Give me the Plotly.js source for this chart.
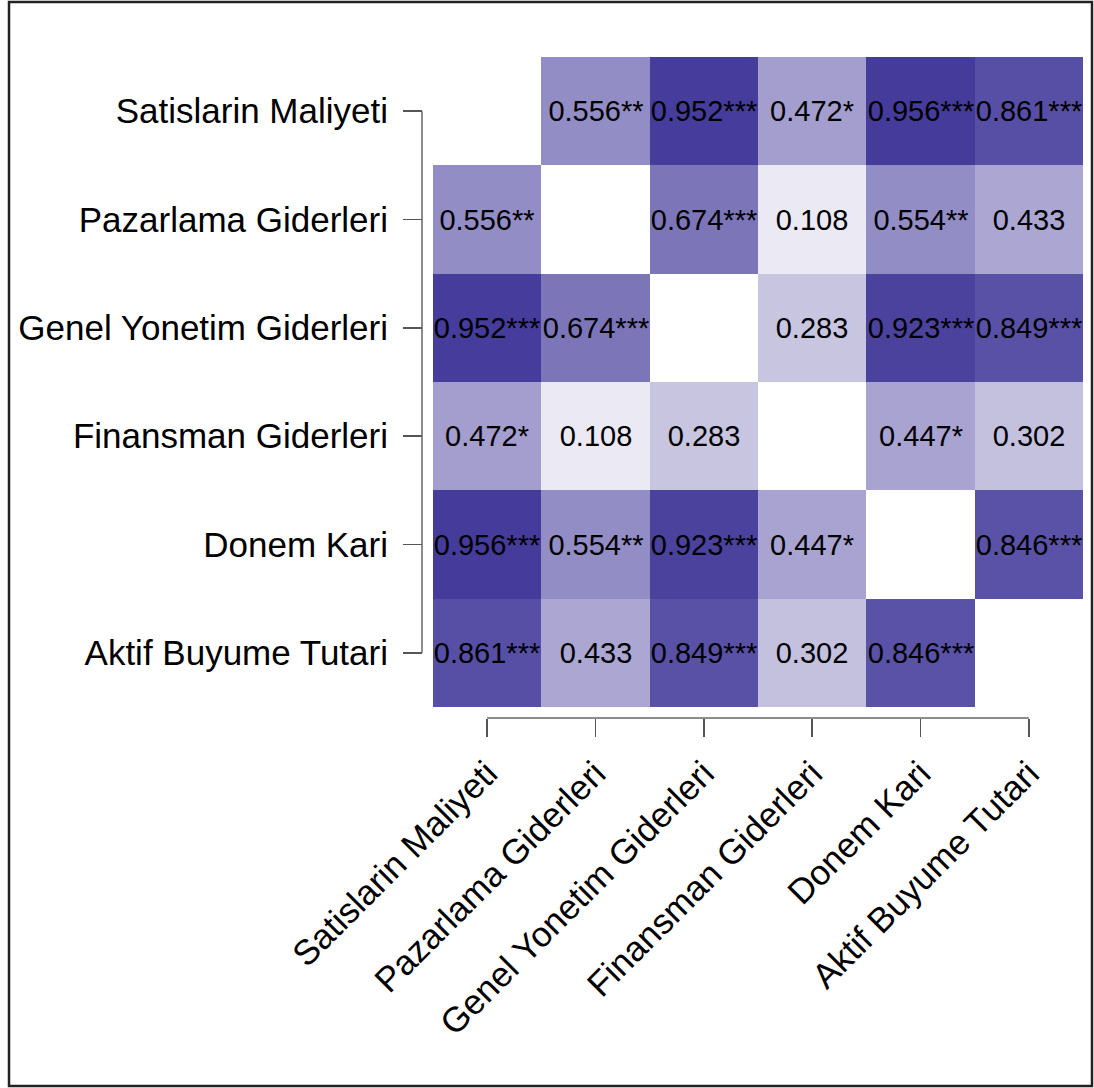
<!DOCTYPE html>
<html>
<head>
<meta charset="utf-8">
<script src="https://cdn.plot.ly/plotly-3.0.1.min.js"></script>
<style>html,body{margin:0;padding:0;background:#fff;}#chart{width:1094px;height:1088px;}</style>
</head>
<body>
<div id="chart"></div>
<script>
var labels = ["Satislarin Maliyeti","Pazarlama Giderleri","Genel Yonetim Giderleri","Finansman Giderleri","Donem Kari","Aktif Buyume Tutari"];

var rowSatislarin = [null, 0.556, 0.952, 0.472, 0.956, 0.861];
var rowPazarlama  = [0.556, null, 0.674, 0.108, 0.554, 0.433];
var rowGenel      = [0.952, 0.674, null, 0.283, 0.923, 0.849];
var rowFinansman  = [0.472, 0.108, 0.283, null, 0.447, 0.302];
var rowDonem      = [0.956, 0.554, 0.923, 0.447, null, 0.846];
var rowAktif      = [0.861, 0.433, 0.849, 0.302, 0.846, null];

var starsSatislarin = ["", "**", "***", "*", "***", "***"];
var starsPazarlama  = ["**", "", "***", "", "**", ""];
var starsGenel      = ["***", "***", "", "", "***", "***"];
var starsFinansman  = ["*", "", "", "", "*", ""];
var starsDonem      = ["***", "**", "***", "*", "", "***"];
var starsAktif      = ["***", "", "***", "", "***", ""];

var z = [rowSatislarin, rowPazarlama, rowGenel, rowFinansman, rowDonem, rowAktif];
var stars = [starsSatislarin, starsPazarlama, starsGenel, starsFinansman, starsDonem, starsAktif];
var text = z.map(function(row, i){
  return row.map(function(v, j){ return v === null ? "" : v.toFixed(3) + stars[i][j]; });
});

var W = 1094, H = 1088, L = 380, R = 11, T = 57, B = 370;
var pw = W - L - R, ph = H - T - B;
function px(x){ return (x - L) / pw; }
function py(y){ return (H - B - y) / ph; }

var trace = {
  type: "heatmap",
  x: labels, y: labels, z: z, text: text,
  texttemplate: "%{text}",
  textfont: {family: "Liberation Sans, Arial, sans-serif", size: 29, color: "#000"},
  colorscale: [[0, "rgb(255,255,255)"], [1, "rgb(60,50,150)"]],
  zmin: 0, zmax: 1, showscale: false, hoverinfo: "skip"
};

var layout = {
  width: W, height: H,
  margin: {l: L, r: R, t: T, b: B, pad: 0},
  paper_bgcolor: "#fff", plot_bgcolor: "#fff",
  font: {family: "Liberation Sans, Arial, sans-serif", size: 35, color: "#000"},
  showlegend: false,
  hovermode: false,
  xaxis: {
    type: "category", domain: [px(433), 1], anchor: "free", position: 0,
    showgrid: false, zeroline: false, showline: false,
    ticks: "outside", ticklen: 18, tickwidth: 1.5, tickcolor: "#555",
    tickangle: -45, tickfont: {size: 35, color: "#000"}, ticklabelstandoff: 2
  },
  yaxis: {
    type: "category", autorange: "reversed", domain: [py(707), 1],
    anchor: "free", position: px(422),
    showgrid: false, zeroline: false, showline: false,
    ticks: "outside", ticklen: 19, tickwidth: 1.5, tickcolor: "#555",
    tickfont: {size: 35, color: "#000"}, ticklabelstandoff: 8
  },
  shapes: [
    {type: "line", xref: "paper", yref: "y", x0: px(422), x1: px(422), y0: 0, y1: 5,
     line: {color: "#666", width: 1.5}},
    {type: "line", xref: "x", yref: "paper", x0: 0, x1: 5, y0: 0, y1: 0,
     line: {color: "#666", width: 1.5}},
    {type: "rect", xref: "paper", yref: "paper", x0: px(9), x1: px(1092), y0: py(1086), y1: py(2),
     line: {color: "#222", width: 2.5}, fillcolor: "rgba(0,0,0,0)"}
  ]
};

Plotly.newPlot("chart", [trace], layout, {displayModeBar: false, staticPlot: true});
</script>
</body>
</html>
